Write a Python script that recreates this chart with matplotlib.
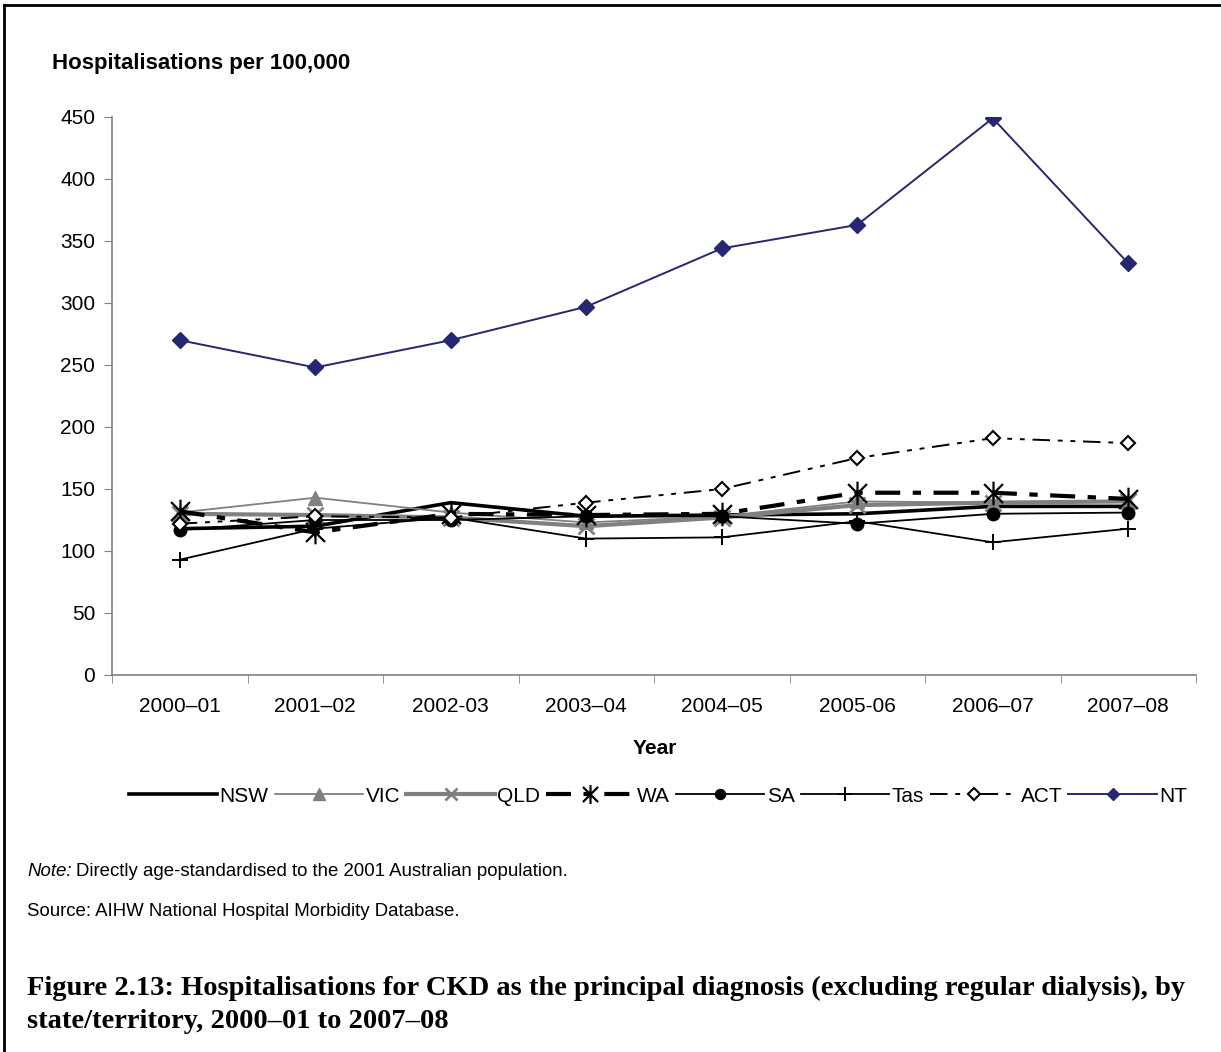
import matplotlib
matplotlib.use("Agg")
import matplotlib.pyplot as plt
from matplotlib.path import Path
from matplotlib.lines import Line2D

plt.rcParams["font.family"] = ["Liberation Sans", "DejaVu Sans"]

years = ["2000–01", "2001–02", "2002-03", "2003–04", "2004–05", "2005-06", "2006–07", "2007–08"]

nsw = [118, 120, 139, 128, 129, 130, 136, 136]
vic = [131, 143, 131, 123, 128, 140, 139, 140]
qld = [130, 129, 127, 120, 127, 137, 139, 140]
wa = [132, 115, 130, 129, 130, 147, 147, 142]
sa = [117, 125, 125, 128, 128, 122, 130, 131]
tas = [93, 118, 127, 110, 111, 124, 107, 118]
act = [122, 128, 127, 139, 150, 175, 191, 187]
nt = [270, 248, 270, 297, 344, 363, 449, 332]

GREY = "#808080"
NAVY = "#262673"

# Excel-style asterisk: an X with a vertical bar through it
asterisk = Path(
    [(-1, -1), (1, 1), (-1, 1), (1, -1), (0, -1.25), (0, 1.25)],
    [Path.MOVETO, Path.LINETO, Path.MOVETO, Path.LINETO, Path.MOVETO, Path.LINETO],
)

fig = plt.figure(figsize=(12.21, 10.52), dpi=100)
ax = fig.add_axes([112 / 1221, 1 - 675 / 1052, (1196 - 112) / 1221, (675 - 117) / 1052])

x = list(range(len(years)))

ax.plot(x, nsw, color="black", lw=2.6, label="NSW", zorder=3)
ax.plot(x, vic, color=GREY, lw=1.3, marker="^", ms=10, mfc=GREY, mec=GREY, label="VIC", zorder=3)
ax.plot(x, qld, color=GREY, lw=3.0, marker="x", ms=11, mew=2, mec=GREY, label="QLD", zorder=3)
ax.plot(x, wa, color="black", lw=3.0, dashes=(6, 3, 2, 3), marker=asterisk, ms=17, mew=1.6,
        mec="black", label="WA", zorder=4)
ax.plot(x, sa, color="black", lw=1.3, marker="o", ms=9, mfc="black", mec="black", label="SA", zorder=4)
ax.plot(x, tas, color="black", lw=1.3, marker="+", ms=12, mew=1.4, label="Tas", zorder=4)
ax.plot(x, act, color="black", lw=1.4, dashes=(9, 4, 2.5, 4, 2.5, 4), marker="D", ms=7.5, mfc="white",
        mec="black", mew=1.5, label="ACT", zorder=5)
ax.plot(x, nt, color=NAVY, lw=1.4, marker="D", ms=8, mfc=NAVY, mec=NAVY, label="NT", zorder=6)

ax.set_xlim(-0.5, len(years) - 0.5)
ax.set_ylim(0, 450)
ax.set_yticks(range(0, 451, 50))
ax.set_xticks(x)
ax.set_xticklabels(years)
ax.set_xticks([i - 0.5 for i in range(len(years) + 1)], minor=True)
ax.tick_params(axis="x", which="major", length=0, pad=16, labelsize=15)
ax.tick_params(axis="x", which="minor", length=6, color=GREY, direction="out")
ax.tick_params(axis="y", length=6, color=GREY, direction="out", pad=6, labelsize=15)

for side in ("top", "right"):
    ax.spines[side].set_visible(False)
for side in ("left", "bottom"):
    ax.spines[side].set_color(GREY)
    ax.spines[side].set_linewidth(1.2)

fig.text(52 / 1221, 1 - 63 / 1052, "Hospitalisations per 100,000", fontsize=16,
         fontweight="bold", va="center", ha="left")
fig.text(655 / 1221, 1 - 748 / 1052, "Year", fontsize=15, fontweight="bold", va="center", ha="center")

leg = fig.legend(loc="center", bbox_to_anchor=(658 / 1221, 1 - 796 / 1052), ncol=8, frameon=False,
                 fontsize=15, handlelength=4.25, handletextpad=0.1, columnspacing=0.3,
                 markerscale=0.8)

fig.text(27 / 1221, 1 - 872 / 1052, "Note:", fontsize=13.4, style="italic", va="center", ha="left")
fig.text(76 / 1221, 1 - 872 / 1052, "Directly age-standardised to the 2001 Australian population.",
         fontsize=13.4, va="center", ha="left")
fig.text(27 / 1221, 1 - 912 / 1052, "Source: AIHW National Hospital Morbidity Database.",
         fontsize=13.4, va="center", ha="left")

caption = ("Figure 2.13: Hospitalisations for CKD as the principal diagnosis (excluding regular dialysis), by\n"
           "state/territory, 2000–01 to 2007–08")
fig.text(27 / 1221, 1 - 1005 / 1052, caption, fontsize=20.5, fontweight="bold",
         family=["Liberation Serif", "DejaVu Serif"], va="center", ha="left", linespacing=1.42)

# page frame (left and top edges)
fig.add_artist(Line2D([4 / 1221, 4 / 1221], [0, 1 - 5 / 1052], color="black", lw=2,
                      transform=fig.transFigure))
fig.add_artist(Line2D([4 / 1221, 1], [1 - 5 / 1052, 1 - 5 / 1052], color="black", lw=2,
                      transform=fig.transFigure))

fig.savefig("out.png", dpi=100)
